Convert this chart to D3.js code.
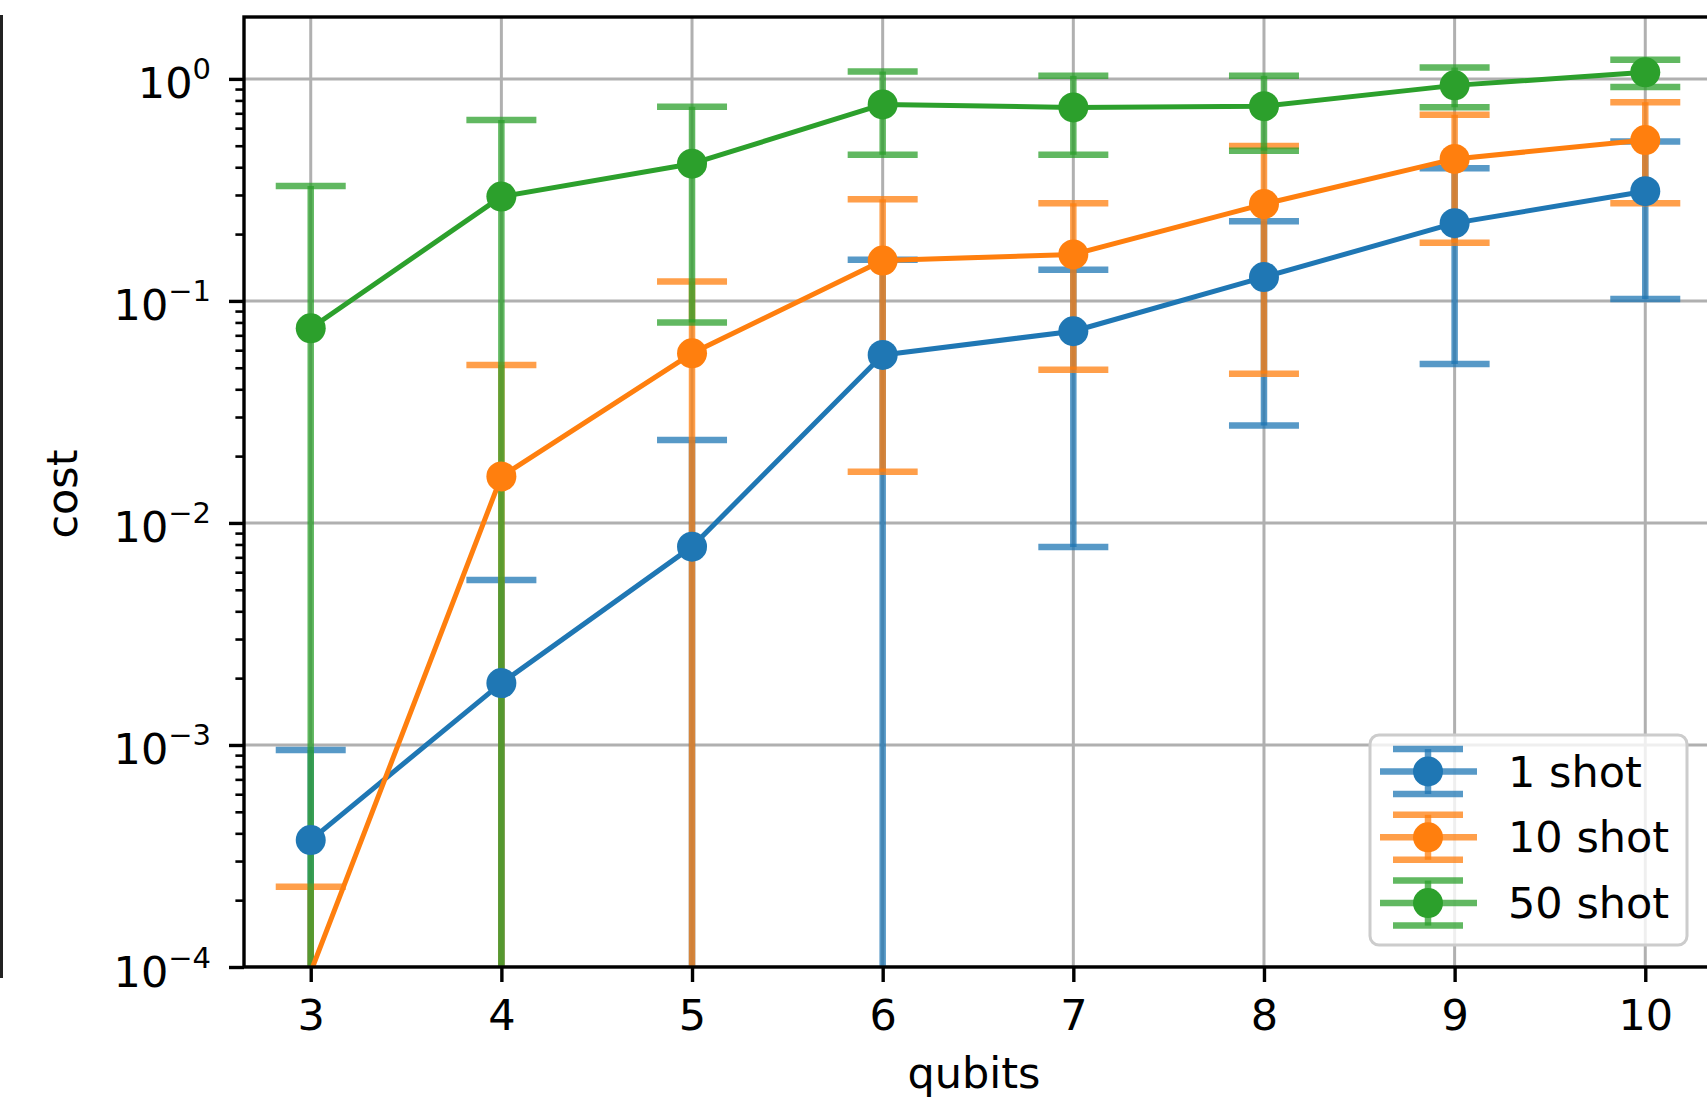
<!DOCTYPE html>
<html><head><meta charset="utf-8">
<script src="https://cdn.jsdelivr.net/npm/d3@7"></script>
<style>body{margin:0;background:#fff} svg{display:block} text{font-family:"DejaVu Sans",sans-serif;fill:#000}</style>
</head><body>
<svg id="c" width="1707" height="1105"></svg>
<script>
// ---------------- data ----------------
const qubits = [3, 4, 5, 6, 7, 8, 9, 10];
const seriesNames = ["1 shot", "10 shot", "50 shot"];
const seriesColors = ["#1f77b4", "#ff7f0e", "#2ca02c"];
const meanOneShot   = [3.73e-4, 1.90e-3, 7.82e-3, 0.0571, 0.073, 0.128, 0.224, 0.312];
const errOneShot    = [5.77e-4, 3.64e-3, 0.0158, 0.096, 0.0652, 0.1005, 0.172, 0.210];
const meanTenShot   = [9.5e-5, 0.0162, 0.0581, 0.152, 0.162, 0.273, 0.436, 0.530];
const errTenShot    = [1.35e-4, 0.0353, 0.0641, 0.135, 0.113, 0.226, 0.253, 0.255];
const meanFiftyShot = [0.0753, 0.295, 0.415, 0.767, 0.7435, 0.7535, 0.935, 1.07];
const errFiftyShot  = [0.2544, 0.3585, 0.335, 0.312, 0.2885, 0.2785, 0.19, 0.15];
const xTickValues = [3, 4, 5, 6, 7, 8, 9, 10];
const yTickValues = [1e-4, 1e-3, 1e-2, 1e-1, 1];
const yTickExponents = ["\u22124", "\u22123", "\u22122", "\u22121", "0"];
const xLabel = "qubits";
const yLabel = "cost";

// ---------------- layout ----------------
const plotLeft = 244, plotRight = 1712, plotTop = 17, plotBottom = 967;
const svg = d3.select("#c");
const x = d3.scaleLinear().domain([2.65, 10.35]).range([plotLeft, plotRight]);
const y = d3.scaleLog().domain([1e-4, 1.9]).range([plotBottom, plotTop]);
const yPix = v => v > 0 ? y(v) : plotBottom + 600;

const means = [meanOneShot, meanTenShot, meanFiftyShot];
const errs = [errOneShot, errTenShot, errFiftyShot];
const series = seriesNames.map((name, i) => ({
  name, color: seriesColors[i],
  pts: qubits.map((q, j) => ({q, m: means[i][j], e: errs[i][j]}))
}));

const FS = 43;
const capHalf = 35, errW = 6.5, lineW = 5, markerR = 15;

svg.append("defs").append("clipPath").attr("id", "clip")
  .append("rect").attr("x", plotLeft).attr("y", plotTop)
  .attr("width", plotRight - plotLeft).attr("height", plotBottom - plotTop);

// stray frame line at far left (edge of a neighbouring panel)
svg.append("line").attr("x1", 1.5).attr("x2", 1.5).attr("y1", 15).attr("y2", 978)
  .attr("stroke", "#222").attr("stroke-width", 3);

// ---------------- grid ----------------
const grid = svg.append("g").attr("clip-path", "url(#clip)");
grid.selectAll(".gx").data(xTickValues).join("line")
  .attr("x1", d => x(d)).attr("x2", d => x(d)).attr("y1", plotTop).attr("y2", plotBottom)
  .attr("stroke", "#b0b0b0").attr("stroke-width", 3);
grid.selectAll(".gy").data(yTickValues).join("line")
  .attr("x1", plotLeft).attr("x2", plotRight).attr("y1", d => y(d)).attr("y2", d => y(d))
  .attr("stroke", "#b0b0b0").attr("stroke-width", 3);

// ---------------- error bars ----------------
const eb = svg.append("g").attr("clip-path", "url(#clip)");
series.forEach(s => {
  const g = eb.append("g").attr("stroke", s.color).attr("stroke-opacity", 0.75).attr("stroke-width", errW);
  g.selectAll(".bar").data(s.pts).join("line")
    .attr("x1", d => x(d.q)).attr("x2", d => x(d.q))
    .attr("y1", d => yPix(d.m + d.e)).attr("y2", d => yPix(d.m - d.e));
  const caps = [];
  s.pts.forEach(d => { caps.push({q: d.q, v: d.m + d.e}); if (d.m - d.e > 0) caps.push({q: d.q, v: d.m - d.e}); });
  g.selectAll(".cap").data(caps).join("line")
    .attr("x1", d => x(d.q) - capHalf).attr("x2", d => x(d.q) + capHalf)
    .attr("y1", d => y(d.v)).attr("y2", d => y(d.v));
});

// ---------------- data lines + markers ----------------
const dl = svg.append("g").attr("clip-path", "url(#clip)");
const line = d3.line().x(d => x(d.q)).y(d => yPix(d.m));
series.forEach(s => {
  dl.append("path").attr("d", line(s.pts)).attr("fill", "none")
    .attr("stroke", s.color).attr("stroke-width", lineW).attr("stroke-linejoin", "round");
  const vis = s.pts.filter(d => { const py = yPix(d.m); return py >= plotTop && py <= plotBottom; });
  dl.selectAll(null).data(vis).join("circle")
    .attr("cx", d => x(d.q)).attr("cy", d => y(d.m)).attr("r", markerR).attr("fill", s.color);
});

// ---------------- axes ----------------
const xAxis = svg.append("g").attr("transform", `translate(0,${plotBottom})`)
  .call(d3.axisBottom(x).tickValues(xTickValues).tickSize(15).tickPadding(16).tickFormat(d3.format("d")));
xAxis.select(".domain").remove();
xAxis.selectAll(".tick line").attr("stroke", "#000").attr("stroke-width", 3.4);
xAxis.selectAll(".tick text").attr("font-size", FS).attr("font-family", "DejaVu Sans").attr("dy", null).attr("y", 63);

const minorTicks = y.ticks().filter(v => Math.abs(Math.log10(v) - Math.round(Math.log10(v))) > 1e-6);
const yMinor = svg.append("g").attr("transform", `translate(${plotLeft},0)`)
  .call(d3.axisLeft(y).tickValues(minorTicks).tickSize(8.6).tickFormat(() => ""));
yMinor.select(".domain").remove();
yMinor.selectAll(".tick line").attr("stroke", "#000").attr("stroke-width", 2.6);

const yAxis = svg.append("g").attr("transform", `translate(${plotLeft},0)`)
  .call(d3.axisLeft(y).tickValues(yTickValues).tickSize(15).tickFormat(() => ""));
yAxis.select(".domain").remove();
yAxis.selectAll(".tick line").attr("stroke", "#000").attr("stroke-width", 3.4);
yAxis.selectAll(".tick text").each(function(d, i) {
  const t = d3.select(this).attr("x", -33).attr("dy", null).attr("y", 19)
    .attr("text-anchor", "end").attr("font-size", FS).attr("font-family", "DejaVu Sans");
  t.text(null);
  t.append("tspan").text("10");
  t.append("tspan").attr("font-size", 29).attr("dy", -19).text(yTickExponents[i]);
});

// spines
svg.append("rect").attr("x", plotLeft).attr("y", plotTop)
  .attr("width", plotRight - plotLeft).attr("height", plotBottom - plotTop)
  .attr("fill", "none").attr("stroke", "#000").attr("stroke-width", 3.4);

// axis labels
svg.append("text").attr("x", 974).attr("y", 1088).attr("text-anchor", "middle")
  .attr("font-size", FS).text(xLabel);
svg.append("text").attr("transform", "translate(77,494) rotate(-90)").attr("text-anchor", "middle")
  .attr("font-size", FS).text(yLabel);

// ---------------- legend ----------------
const lg = svg.append("g");
lg.append("rect").attr("x", 1370).attr("y", 735).attr("width", 317).attr("height", 210)
  .attr("rx", 9).attr("fill", "#fff").attr("fill-opacity", 0.8)
  .attr("stroke", "#cccccc").attr("stroke-width", 3);
const rows = lg.selectAll(".row").data(series).join("g")
  .attr("transform", (d, i) => `translate(0,${771.5 + i * 65.8})`);
rows.append("line").attr("x1", 1380).attr("x2", 1477).attr("y1", 0).attr("y2", 0)
  .attr("stroke", d => d.color).attr("stroke-opacity", 0.75).attr("stroke-width", errW);
rows.append("line").attr("x1", 1428).attr("x2", 1428).attr("y1", -22.5).attr("y2", 22.5)
  .attr("stroke", d => d.color).attr("stroke-opacity", 0.75).attr("stroke-width", errW);
[-22.5, 22.5].forEach(off => rows.append("line").attr("x1", 1393).attr("x2", 1463)
  .attr("y1", off).attr("y2", off).attr("stroke", d => d.color).attr("stroke-opacity", 0.75).attr("stroke-width", errW));
rows.append("circle").attr("cx", 1428).attr("cy", 0).attr("r", markerR).attr("fill", d => d.color);
rows.append("text").attr("x", 1508).attr("y", 15).attr("font-size", FS).text(d => d.name);
</script>
</body></html>
